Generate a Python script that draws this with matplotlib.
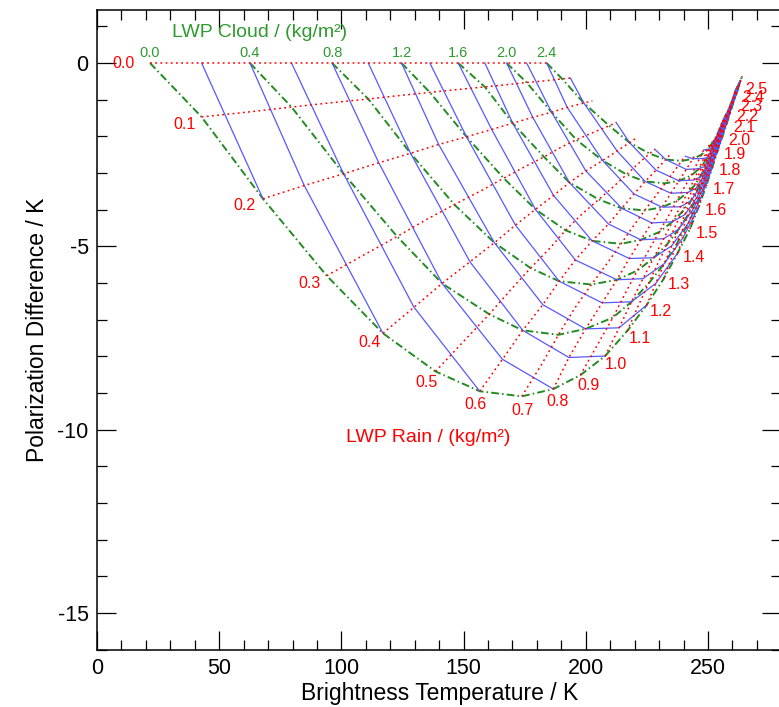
import numpy as np
import matplotlib
matplotlib.use("Agg")
import matplotlib.pyplot as plt
from matplotlib.ticker import MultipleLocator

nan = np.nan

# rain LWP (rows) and cloud LWP (columns), kg/m2
rain = [0.0, 0.1, 0.2, 0.3, 0.4, 0.5, 0.6, 0.7, 0.8, 0.9, 1.0, 1.1, 1.2,
        1.3, 1.4, 1.5, 1.6, 1.7, 1.8, 1.9, 2.0, 2.1, 2.2, 2.3, 2.4, 2.5]
cloud = [0.0, 0.2, 0.4, 0.6, 0.8, 1.0, 1.2, 1.4, 1.6, 1.8, 2.0, 2.2, 2.4, 2.5]
cloud_lines = [0.0, 0.4, 0.8, 1.2, 1.6, 2.0, 2.4]

# brightness temperature [K], one row per rain value
tb_grid = [
    [21.7, 42.8, 62.6, 79.6, 96.2, 111.0, 124.6, 136.2, 147.8, 158.7, 167.6, 175.8, 184.0, nan],
    [42.8, 62.6, 79.6, 96.2, 111.0, 124.6, 136.2, 147.8, 158.7, 167.6, 175.8, 184.0, 190.3, 193.7],
    [67.9, 84.8, 100.9, 115.3, 128.3, 139.8, 151.2, 161.5, 170.1, 178.3, 186.0, 192.4, 199.2, 202.7],
    [94.0, 109.0, 122.8, 134.7, 146.2, 157.2, 166.4, 174.7, 182.9, 189.5, 196.1, 203.1, 209.6, 212.4],
    [117.0, 129.7, 141.2, 152.6, 162.6, 171.2, 179.4, 186.8, 193.3, 200.0, 206.9, 212.8, 217.9, 220.3],
    [138.5, 150.0, 160.5, 169.2, 177.4, 185.3, 191.7, 198.4, 205.3, 211.5, 216.7, 221.5, 226.1, 228.2],
    [156.6, 165.9, 174.2, 182.4, 189.1, 195.7, 202.6, 209.3, 214.7, 219.7, 224.3, 228.7, 232.7, 234.4],
    [173.8, 182.0, 188.8, 195.4, 202.3, 208.9, 214.4, 219.4, 224.1, 228.5, 232.5, 236.0, 239.2, 240.7],
    [186.7, 193.1, 199.9, 206.7, 212.7, 217.8, 222.5, 227.0, 231.2, 234.8, 238.1, 241.1, 243.8, 244.9],
    [197.8, 204.8, 211.1, 216.3, 221.1, 225.7, 230.0, 233.8, 237.2, 240.2, 243.1, 245.3, 247.3, 248.2],
    [207.9, 213.6, 218.7, 223.4, 227.8, 231.9, 235.4, 238.7, 241.7, 244.2, 246.3, 248.2, 249.8, 250.5],
    [216.9, 221.4, 225.7, 229.6, 233.3, 236.4, 239.4, 242.1, 244.4, 246.3, 248.1, 249.6, 251.0, 251.6],
    [224.9, 228.6, 232.1, 235.2, 238.0, 240.6, 243.0, 245.0, 246.7, 248.3, 249.7, 251.0, 252.2, 252.9],
    [231.8, 234.7, 237.3, 239.8, 242.1, 244.1, 245.8, 247.3, 248.7, 249.9, 251.1, 252.2, 253.4, 253.9],
    [237.6, 239.8, 242.0, 243.8, 245.4, 246.8, 248.1, 249.3, 250.4, 251.4, 252.5, 253.5, 254.5, 254.9],
    [242.6, 244.2, 245.6, 246.9, 248.0, 249.1, 250.1, 251.1, 252.0, 253.0, 253.8, 254.7, 255.3, 255.7],
    [246.2, 247.4, 248.4, 249.3, 250.3, 251.1, 251.9, 252.9, 253.6, 254.4, 255.1, 255.6, 256.4, 256.7],
    [249.2, 250.0, 250.8, 251.6, 252.4, 253.2, 253.8, 254.5, 255.1, 255.6, 256.3, 256.9, 257.5, 257.9],
    [251.7, 252.4, 253.1, 253.7, 254.3, 254.9, 255.4, 255.9, 256.4, 257.0, 257.6, 258.1, 258.6, 258.8],
    [253.8, 254.4, 254.9, 255.3, 255.8, 256.3, 256.8, 257.3, 257.8, 258.2, 258.7, 259.1, 259.4, 259.6],
    [255.8, 256.2, 256.7, 257.1, 257.6, 258.0, 258.4, 258.7, 259.1, 259.4, 259.7, 260.0, 260.3, 260.4],
    [257.5, 257.9, 258.2, 258.6, 258.9, 259.2, 259.4, 259.7, 259.9, 260.2, 260.4, 260.6, 260.9, 261.0],
    [259.0, 259.2, 259.4, 259.7, 259.9, 260.1, 260.3, 260.5, 260.7, 260.9, 261.1, 261.4, 261.6, 261.7],
    [260.3, 260.5, 260.6, 260.8, 261.0, 261.2, 261.4, 261.6, 261.8, 262.0, 262.2, 262.4, 262.5, 262.6],
    [261.5, 261.7, 261.8, 262.0, 262.1, 262.3, 262.5, 262.6, 262.7, 262.8, 263.0, 263.2, 263.3, 263.4],
    [262.6, 262.7, 262.8, 263.0, 263.1, 263.2, 263.3, 263.4, 263.5, 263.6, 263.7, 263.8, 263.9, 264.0],
]

# polarization difference [K], same layout
pd_grid = [
    [0.0, 0.0, 0.0, 0.0, 0.0, 0.0, 0.0, 0.0, 0.0, 0.0, 0.0, 0.0, 0.0, nan],
    [-1.47, -1.33, -1.20, -1.08, -0.98, -0.88, -0.80, -0.72, -0.65, -0.59, -0.53, -0.48, -0.43, -0.41],
    [-3.70, -3.34, -3.02, -2.72, -2.46, -2.22, -2.01, -1.81, -1.64, -1.48, -1.34, -1.21, -1.09, -1.03],
    [-5.80, -5.24, -4.73, -4.27, -3.86, -3.48, -3.14, -2.84, -2.56, -2.31, -2.09, -1.89, -1.71, -1.62],
    [-7.37, -6.66, -6.01, -5.42, -4.90, -4.42, -3.99, -3.61, -3.26, -2.94, -2.66, -2.40, -2.17, -2.06],
    [-8.41, -7.59, -6.85, -6.19, -5.59, -5.05, -4.56, -4.12, -3.72, -3.36, -3.04, -2.74, -2.47, -2.35],
    [-8.95, -8.08, -7.29, -6.59, -5.95, -5.37, -4.85, -4.39, -3.96, -3.57, -3.23, -2.92, -2.63, -2.50],
    [-9.09, -8.21, -7.41, -6.69, -6.04, -5.45, -4.93, -4.45, -4.02, -3.63, -3.28, -2.96, -2.67, -2.54],
    [-8.89, -8.03, -7.25, -6.54, -5.91, -5.33, -4.82, -4.36, -3.93, -3.55, -3.21, -2.90, -2.61, -2.48],
    [-8.51, -7.68, -6.94, -6.26, -5.66, -5.11, -4.61, -4.17, -3.76, -3.40, -3.07, -2.77, -2.50, -2.37],
    [-7.99, -7.22, -6.51, -5.88, -5.31, -4.79, -4.33, -3.92, -3.53, -3.19, -2.88, -2.60, -2.35, -2.23],
    [-7.31, -6.63, -6.01, -5.45, -4.94, -4.48, -4.06, -3.68, -3.34, -3.03, -2.74, -2.49, -2.25, -2.15],
    [-6.60, -6.01, -5.47, -4.98, -4.53, -4.13, -3.76, -3.42, -3.11, -2.83, -2.58, -2.34, -2.14, -2.04],
    [-5.89, -5.38, -4.92, -4.49, -4.11, -3.76, -3.43, -3.14, -2.87, -2.62, -2.40, -2.19, -2.00, -1.91],
    [-5.18, -4.76, -4.36, -4.00, -3.67, -3.37, -3.09, -2.84, -2.61, -2.39, -2.19, -2.01, -1.84, -1.77],
    [-4.53, -4.17, -3.85, -3.54, -3.26, -3.01, -2.77, -2.55, -2.35, -2.17, -1.99, -1.84, -1.69, -1.63],
    [-3.92, -3.63, -3.36, -3.10, -2.87, -2.65, -2.45, -2.27, -2.10, -1.94, -1.80, -1.66, -1.54, -1.48],
    [-3.36, -3.12, -2.90, -2.69, -2.50, -2.32, -2.15, -2.00, -1.86, -1.73, -1.60, -1.49, -1.38, -1.33],
    [-2.86, -2.67, -2.49, -2.32, -2.16, -2.02, -1.88, -1.75, -1.63, -1.52, -1.42, -1.32, -1.24, -1.19],
    [-2.42, -2.27, -2.12, -1.98, -1.86, -1.74, -1.63, -1.52, -1.43, -1.34, -1.25, -1.17, -1.10, -1.06],
    [-2.03, -1.91, -1.79, -1.68, -1.58, -1.49, -1.40, -1.32, -1.24, -1.16, -1.09, -1.03, -0.96, -0.94],
    [-1.68, -1.58, -1.49, -1.40, -1.32, -1.24, -1.17, -1.10, -1.04, -0.98, -0.92, -0.87, -0.82, -0.79],
    [-1.37, -1.30, -1.22, -1.16, -1.09, -1.04, -0.98, -0.93, -0.88, -0.83, -0.78, -0.74, -0.70, -0.68],
    [-1.10, -1.04, -0.99, -0.94, -0.89, -0.84, -0.80, -0.75, -0.71, -0.68, -0.64, -0.61, -0.58, -0.56],
    [-0.86, -0.82, -0.78, -0.74, -0.70, -0.67, -0.64, -0.61, -0.58, -0.55, -0.52, -0.50, -0.47, -0.46],
    [-0.65, -0.62, -0.59, -0.56, -0.54, -0.51, -0.49, -0.47, -0.44, -0.42, -0.40, -0.38, -0.37, -0.36],
]

plt.rcParams['font.family'] = ['Liberation Sans', 'DejaVu Sans']
plt.rcParams['axes.unicode_minus'] = False

tb = np.array(tb_grid)
pdif = np.array(pd_grid)
ct = [int(round(c * 10)) for c in cloud]
nr = len(rain)

fig = plt.figure(figsize=(7.79, 7.07), dpi=100)
ax = fig.add_axes([0.1245, 0.081, 0.8785, 0.905])
ax.set_xlim(0, 280)
ax.set_ylim(-16, 1.45)

# green: constant cloud
for c in cloud_lines:
    i = cloud.index(c)
    ax.plot(tb[:, i], pdif[:, i], color='#228b22', lw=1.4,
            ls=(0, (4, 1.6, 0.8, 1.6)), zorder=2)

# blue: constant total water (cloud + rain)
for tot in range(2, 51, 2):
    xs, ys = [], []
    for i in range(len(cloud) - 1, -1, -1):
        j = tot - ct[i]
        if 0 <= j < nr and not np.isnan(tb[j, i]):
            xs.append(tb[j, i])
            ys.append(pdif[j, i])
    if len(xs) > 1:
        ax.plot(xs, ys, color='#5858ff', lw=0.9, zorder=3)

# red: constant rain
for j in range(nr):
    ax.plot(tb[j], pdif[j], color='red', lw=1.1, ls=(0, (1.2, 2.2)), zorder=4)

# rain labels along the cloud-free curve
pts = ax.transData.transform(np.column_stack([tb[:, 0], pdif[:, 0]]))
for j, r in enumerate(rain):
    if j == 0:
        nx, ny = -1.0, 0.0
    else:
        a = pts[j - 1]
        b = pts[min(j + 1, nr - 1)]
        tx, ty = b - a
        L = np.hypot(tx, ty)
        tx, ty = tx / L, ty / L
        nx, ny = ty, -tx
    if nx < 0:
        ox = nx * (9 + 18 * abs(nx))
    else:
        ox = nx * (10 + 9 * abs(nx))
    oy = ny * (7 + 7 * abs(ny))
    ax.annotate("%.1f" % r, (tb[j, 0], pdif[j, 0]), xytext=(ox, oy),
                textcoords='offset pixels', ha='center', va='center',
                color='red', fontsize=11.5, zorder=5)

for c in cloud_lines:
    i = cloud.index(c)
    ax.text(tb[0, i], 0.27, "%.1f" % c, color='#2f9a2f', fontsize=10.5,
            ha='center', va='center')

ax.text(66.7, 0.82, "LWP Cloud / (kg/m\u00b2)", color='#2f9a2f', fontsize=14,
        ha='center', va='center')
ax.text(135.6, -10.2, "LWP Rain / (kg/m\u00b2)", color='red', fontsize=14,
        ha='center', va='center')

ax.xaxis.set_major_locator(MultipleLocator(50))
ax.xaxis.set_minor_locator(MultipleLocator(10))
ax.yaxis.set_major_locator(MultipleLocator(5))
ax.yaxis.set_minor_locator(MultipleLocator(1))
ax.tick_params(which='both', direction='in', top=True, right=True, width=0.9)
ax.tick_params(which='major', length=13.5, labelsize=15.5, pad=6)
ax.tick_params(which='minor', length=7)
for s in ax.spines.values():
    s.set_linewidth(1.1)

ax.set_xlabel("Brightness Temperature / K", fontsize=16.5, labelpad=2)
ax.set_ylabel("Polarization Difference / K", fontsize=16.5, labelpad=6)

fig.savefig("out.png", dpi=100)
